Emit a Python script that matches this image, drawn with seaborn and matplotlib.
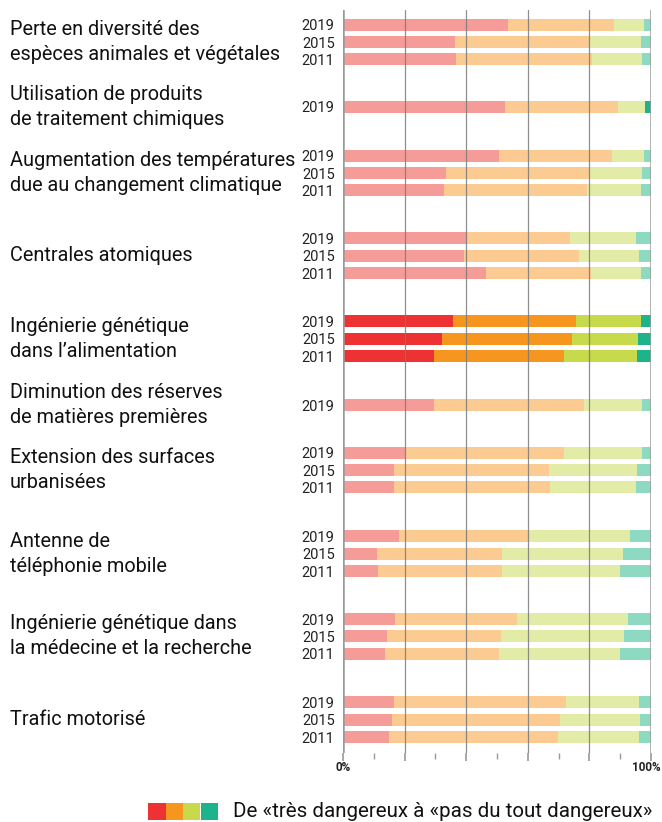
import numpy as np
import pandas as pd
import matplotlib
matplotlib.use("Agg")
import matplotlib.pyplot as plt
import seaborn as sns
from matplotlib import font_manager
from matplotlib.patches import Rectangle

# ---------------- data ----------------
categories = [
    "Perte en diversité des\nespèces animales et végétales",
    "Utilisation de produits\nde traitement chimiques",
    "Augmentation des températures\ndue au changement climatique",
    "Centrales atomiques",
    "Ingénierie génétique\ndans l’alimentation",
    "Diminution des réserves\nde matières premières",
    "Extension des surfaces\nurbanisées",
    "Antenne de\ntéléphonie mobile",
    "Ingénierie génétique dans\nla médecine et la recherche",
    "Trafic motorisé",
]
years = [
    ["2019", "2015", "2011"], ["2019"], ["2019", "2015", "2011"],
    ["2019", "2015", "2011"], ["2019", "2015", "2011"], ["2019"],
    ["2019", "2015", "2011"], ["2019", "2015", "2011"],
    ["2019", "2015", "2011"], ["2019", "2015", "2011"],
]
tres_dangereux = [
    [53.7, 36.3, 36.8], [52.7], [50.8, 33.5, 32.9], [40.3, 39.4, 46.5],
    [35.8, 32.3, 29.7], [29.7], [20.0, 16.7, 16.7], [18.1, 11.1, 11.4],
    [16.8, 14.4, 13.7], [16.7, 15.9, 14.9],
]
plutot_dangereux = [
    [34.4, 43.9, 44.2], [36.7], [36.6, 46.7, 46.4], [33.5, 37.3, 34.1],
    [40.0, 42.2, 42.2], [48.5], [51.8, 50.3, 50.6], [42.3, 40.6, 40.1],
    [39.8, 36.8, 37.1], [55.6, 54.6, 55.0],
]
peu_dangereux = [
    [9.7, 16.7, 16.2], [8.8], [10.4, 17.0, 17.3], [21.4, 19.5, 16.3],
    [21.1, 21.4, 23.7], [19.0], [25.4, 28.6, 27.9], [32.9, 39.3, 38.5],
    [36.0, 40.1, 39.2], [23.9, 26.0, 26.3],
]
pas_dangereux = [
    [2.2, 3.1, 2.8], [1.8], [2.2, 2.8, 3.4], [4.8, 3.8, 3.1],
    [3.1, 4.1, 4.4], [2.8], [2.8, 4.4, 4.8], [6.7, 9.0, 10.0],
    [7.4, 8.7, 10.0], [3.8, 3.5, 3.8],
]
highlight_category = "Ingénierie génétique\ndans l’alimentation"
legend_text = "De «très dangereux à «pas du tout dangereux»"
x_tick_labels = ["0%", "100%"]

# ---------------- layout (pixel based) ----------------
W, H = 662, 822
group_centers_px = [42, 106.7, 173, 255.7, 338.7, 405, 470, 553.7, 636.3, 719.7]
row_px = 17.3
ax_left_px, ax_right_px, ax_top_px, ax_bottom_px = 343, 651, 10, 753

strong = ["#ee3233", "#f7961f", "#c6da4c", "#1db48c"]
pale = ["#f59b98", "#fbcb91", "#e3eca6", "#8dd9c2"]

avail = {f.name for f in font_manager.fontManager.ttflist}
font = next((f for f in ["Roboto", "Liberation Sans"] if f in avail), "DejaVu Sans")

sns.set_theme(style="white")
plt.rcParams["font.family"] = [font, "DejaVu Sans"]

# ---------------- build long table ----------------
rows = []
for ci, cat in enumerate(categories):
    ys = years[ci]
    n = len(ys)
    for yi, yr in enumerate(ys):
        pos = group_centers_px[ci] + (yi - (n - 1) / 2) * row_px
        a, b, c, d = (tres_dangereux[ci][yi], plutot_dangereux[ci][yi],
                      peu_dangereux[ci][yi], pas_dangereux[ci][yi])
        rows.append(dict(category=cat, year=yr, pos=pos,
                         c1=a, c2=a + b, c3=a + b + c, c4=a + b + c + d,
                         hl="strong" if cat == highlight_category else "pale",
                         hl_teal="strong" if cat in (highlight_category, categories[1]) else "pale"))
df = pd.DataFrame(rows)

fig = plt.figure(figsize=(W / 100, H / 100), dpi=100)
ax = fig.add_axes([ax_left_px / W, 1 - ax_bottom_px / H,
                   (ax_right_px - ax_left_px) / W, (ax_bottom_px - ax_top_px) / H])

bar_w = 12 / row_px
layers = [("c4", 3, "hl_teal"), ("c3", 2, "hl"), ("c2", 1, "hl"), ("c1", 0, "hl")]
for col, k, hcol in layers:
    sns.barplot(data=df, x=col, y="pos", hue=hcol, orient="h", native_scale=True,
                palette={"strong": strong[k], "pale": pale[k]}, dodge=False, saturation=1,
                width=bar_w, errorbar=None, legend=False, linewidth=0, ax=ax)

ax.set_xlim(0, 100)
ax.set_ylim(ax_bottom_px, ax_top_px)
ax.set_xlabel("")
ax.set_ylabel("")
for s in ax.spines.values():
    s.set_visible(False)

for v in [20, 40, 60, 80]:
    ax.axvline(v, color="#7a7a7a", lw=0.9, alpha=0.85, zorder=5)
for v in [0, 100]:
    ax.axvline(v, color="#9a9a9a", lw=1.8, zorder=5)

ax.set_yticks(df["pos"].tolist())
ax.set_yticklabels(df["year"].tolist(), fontsize=10.5, color="#222222")
ax.tick_params(axis="y", length=0, pad=6)

ax.set_xticks(np.arange(0, 101, 20))
ax.set_xticks(np.arange(10, 100, 20), minor=True)
ax.set_xticklabels([])
ax.tick_params(axis="x", which="major", length=6, width=1.2, color="#9a9a9a", bottom=True)
ax.tick_params(axis="x", which="minor", length=4, width=1.0, color="#9a9a9a", bottom=True)
fig.text(ax_left_px / W, 1 - 767 / H, x_tick_labels[0], ha="center", va="center",
         fontsize=8.5, fontweight="bold", color="#222222")
fig.text(661 / W, 1 - 767 / H, x_tick_labels[1], ha="right", va="center",
         fontsize=8.5, fontweight="bold", color="#222222")

for ci, cat in enumerate(categories):
    fig.text(10 / W, 1 - group_centers_px[ci] / H, cat, ha="left", va="center",
             fontsize=14.3, color="#111111", linespacing=1.4)

sq = 17.5
for i, c in enumerate(strong):
    fig.add_artist(Rectangle(((148 + i * sq) / W, 1 - 820 / H), sq / W, 17 / H,
                             transform=fig.transFigure, color=c, lw=0))
fig.text(233 / W, 1 - 811 / H, legend_text, ha="left", va="center",
         fontsize=14.8, color="#111111")

fig.savefig("out.png", dpi=100)
